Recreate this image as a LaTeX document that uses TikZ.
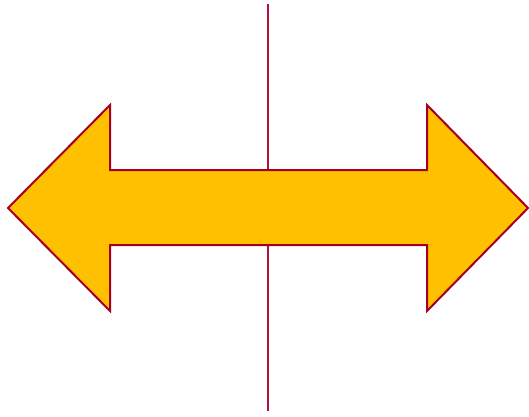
\documentclass[tikz,border=0pt]{standalone}
\definecolor{arrowfill}{RGB}{255,192,0}
\definecolor{arrowedge}{RGB}{165,0,33}
\definecolor{axisred}{RGB}{180,18,58}

\begin{document}
\begin{tikzpicture}[
        x=1pt,
        y=-1pt,
        axis/.style={
            draw=axisred,
            line width=2.6pt
        },
        bigarrow/.style={
            fill=arrowfill,
            draw=arrowedge,
            line width=2pt,
            line join=miter
        }
    ]
    \useasboundingbox (0,0) rectangle (529,416);

    % vertical line
    \coordinate (top) at (268,4);
    \coordinate (bottom) at (268,411);
    \draw[axis] (top) -- (bottom);

    % double arrow
    \draw[bigarrow] (8,208) -- (110,105) -- (110,170) -- (427,170)
        -- (427,105) -- (528,208) -- (427,311) -- (427,245)
        -- (110,245) -- (110,311) -- cycle;

\end{tikzpicture}
\end{document}
